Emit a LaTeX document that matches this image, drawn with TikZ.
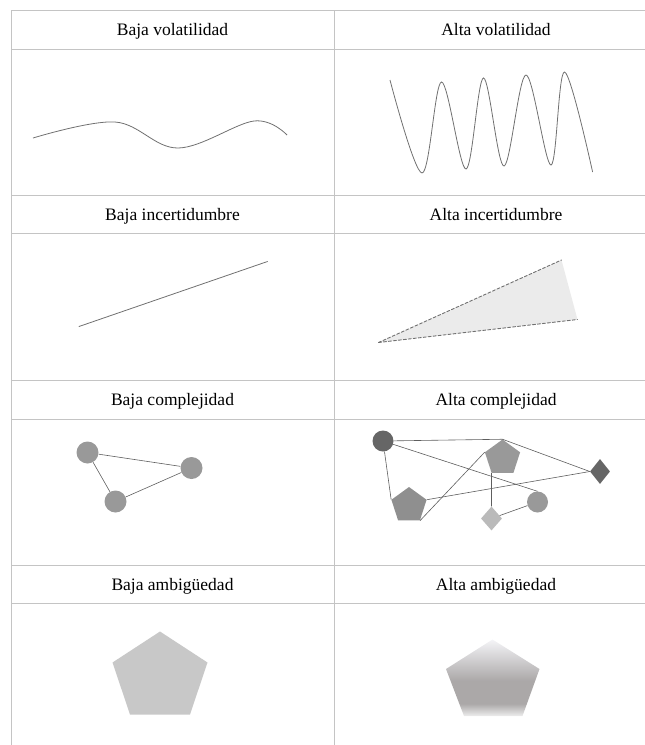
\documentclass[tikz,border=0pt]{standalone}
\usepackage{fontspec}
\setmainfont{Liberation Serif}
\usepackage{tikz}
\usepackage{tkz-euclide}
\usetikzlibrary{shapes.geometric}

\definecolor{gridgray}{HTML}{C4C4C4}
\definecolor{curvegray}{HTML}{707070}
\definecolor{edgegray}{HTML}{5E5E5E}
\definecolor{conegray}{HTML}{EBEBEB}
\definecolor{blobgray}{HTML}{C8C8C8}
\definecolor{ambtop}{HTML}{F4F4F7}
\definecolor{ambmid}{HTML}{ABA8A8}
\definecolor{ambbot}{HTML}{EDEDED}

\pgfdeclareverticalshading{ambig}{100bp}{color(0bp)=(ambbot); color(25bp)=(ambbot);
  color(33bp)=(ambmid); color(48bp)=(ambmid); color(75bp)=(ambtop); color(100bp)=(ambtop)}

\tikzset{
  gridline/.style={draw=gridgray, line width=0.9pt},
  title/.style={font=\fontsize{17.5}{20}\selectfont, inner sep=0pt, anchor=base},
  curve/.style={draw=curvegray, line width=0.8pt},
  link/.style={draw=edgegray, line width=0.6pt},
  dot/.style={circle, inner sep=0pt, minimum size=#1},
  penta/.style={regular polygon, regular polygon sides=5, inner sep=0pt, minimum size=37pt},
  rhomb/.style={diamond, inner sep=0pt, minimum width=20pt, minimum height=25pt},
}

\begin{document}
\begin{tikzpicture}[x=1pt, y=-1pt]
    \useasboundingbox (0,0) rectangle (645,745);

    % table rules
    \draw[gridline] (11,10) -- (11,745);
    \draw[gridline] (334.5,10) -- (334.5,745);
    \draw[gridline] (11,10) -- (645,10);
    \draw[gridline] (11,49) -- (645,49);
    \draw[gridline] (11,195) -- (645,195);
    \draw[gridline] (11,233.5) -- (645,233.5);
    \draw[gridline] (11,380) -- (645,380);
    \draw[gridline] (11,419) -- (645,419);
    \draw[gridline] (11,565) -- (645,565);
    \draw[gridline] (11,603.5) -- (645,603.5);

    % headings
    \node[title] (bvol) at (172.5,35) {Baja volatilidad};
    \node[title] (avol) at (496,35) {Alta volatilidad};
    \node[title] (binc) at (172.5,220) {Baja incertidumbre};
    \node[title] (ainc) at (496,220) {Alta incertidumbre};
    \node[title] (bcom) at (172.5,405) {Baja complejidad};
    \node[title] (acom) at (496,405) {Alta complejidad};
    \node[title] (bamb) at (172.5,590) {Baja ambigüedad};
    \node[title] (aamb) at (496,590) {Alta ambigüedad};

    % volatility
    \draw[curve] plot[smooth, tension=0.6] coordinates
        {(33,138) (115,122) (178,148) (254,121) (287,135)};
    \draw[curve] plot[smooth, tension=0.55] coordinates
        {(390,80) (422,173) (441.5,82) (466,169) (483.5,78) (504,166)
         (526,75) (551,165) (564.6,72) (592.6,172)};

    % uncertainty
    \tkzDefPoints{79/326.5/L,267.5/261.5/M}
    \tkzDrawSegments[curvegray, line width=0.8pt](L,M)
    \tkzDefPoints{378.5/342.5/U,561.5/260/V,577.5/319.5/W}
    \tkzFillPolygon[fill=conegray](U,V,W)
    \tkzDrawSegments[curvegray, line width=0.9pt, dash pattern=on 3pt off 2pt](U,V U,W)

    % complexity, low
    \node[dot=22pt, fill=black!40] (ca) at (87.5,452.5) {};
    \node[dot=22pt, fill=black!40] (cb) at (191.5,468) {};
    \node[dot=22pt, fill=black!40] (cc) at (115.5,501.5) {};
    \draw[link] (ca) -- (cb);
    \draw[link] (ca) -- (cc);
    \draw[link] (cc) -- (cb);

    % complexity, high
    \node[dot=21pt, fill=black!60] (ka) at (383,441) {};
    \node[penta, fill=black!40] (kp) at (502.5,458) {};
    \node[rhomb, fill=black!60] (kd) at (600,471.5) {};
    \node[penta, fill=black!44] (kq) at (409,505.5) {};
    \node[dot=21pt, fill=black!40] (kc) at (537.5,502) {};
    \node[rhomb, fill=black!27, minimum width=21pt, minimum height=24pt] (ke) at (491.5,518.5) {};
    \draw[link] (ka) -- (kp.corner 1) -- (kd.west);
    \draw[link] (ka) -- (kc.north);
    \draw[link] (ka) -- (kq.corner 2);
    \draw[link] (kq.corner 5) -- (kd.west);
    \draw[link] (kq.corner 4) -- (kp.corner 2);
    \draw[link] (kp.corner 3) -- (ke.north);
    \draw[link] (ke) -- (kc);

    % ambiguity
    \tkzDefPoints{160/631.5/A,207.5/662.5/B,190/714.5/C,130/714.5/D,112.5/662.5/E}
    \tkzFillPolygon[fill=blobgray](A,B,C,D,E)
    \tkzDefPoints{492.5/639.5/F,539.5/669/G,522.5/716/H,464/716/I,446/669/J}
    \shade[shading=ambig] (F) -- (G) -- (H) -- (I) -- (J) -- cycle;
\end{tikzpicture}
\end{document}
